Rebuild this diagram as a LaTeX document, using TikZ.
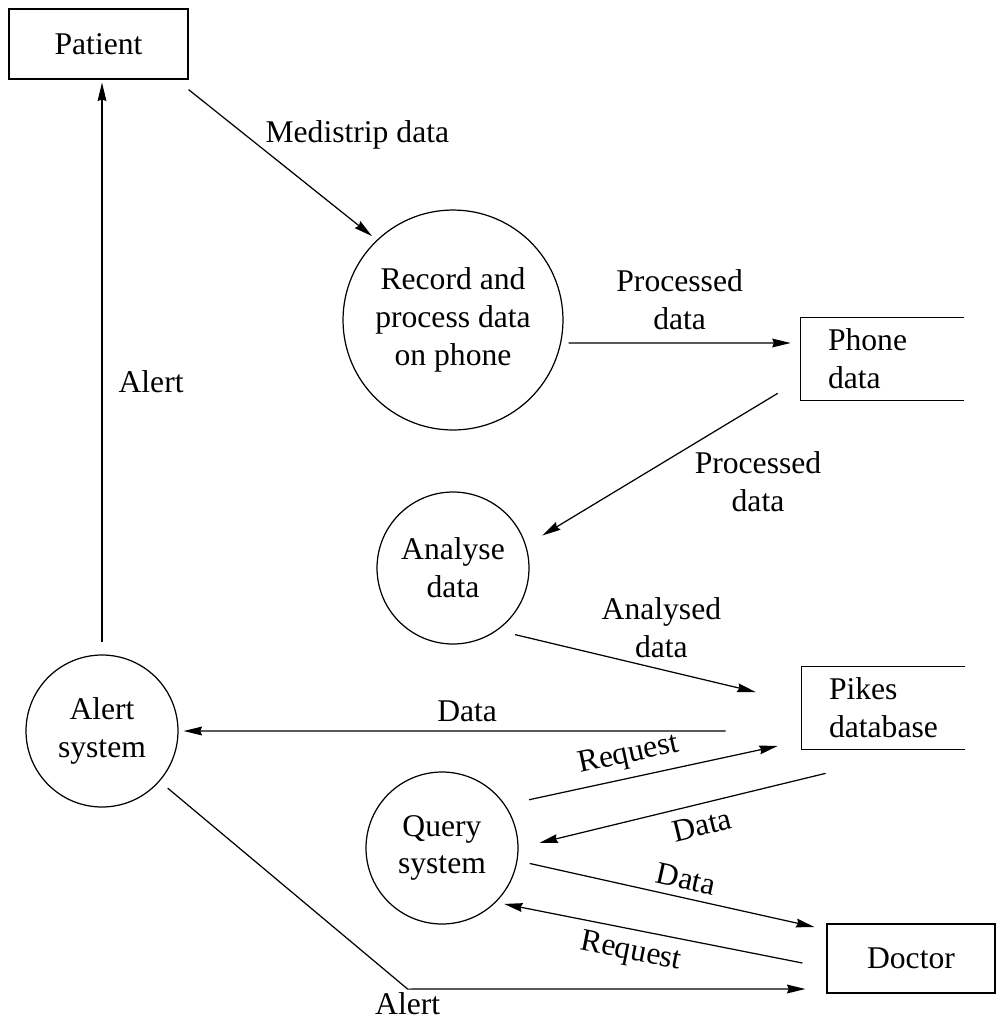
\documentclass[tikz,border=0pt]{standalone}
\usepackage{fontspec}
\setmainfont{Liberation Serif}
\usepackage{tikz}
\usetikzlibrary{arrows.meta}
\tikzset{
  every node/.style={font=\fontsize{18}{21.5}\selectfont},
  nd/.style={circle,draw,line width=0.7pt,inner sep=2pt,align=center},
  bx/.style={rectangle,draw,line width=0.7pt,minimum width=3.58cm,minimum height=1.4cm},
  st/.style={rectangle,inner xsep=0.54cm,text width=2.18cm,minimum height=1.64cm,align=left},
  ed/.style={-{Stealth[length=10.5pt,width=5pt,inset=1pt]},line width=0.7pt},
  lbl/.style={inner sep=0pt},
}
\begin{document}
\begin{tikzpicture}[x=0.02cm,y=0.02cm]
  \useasboundingbox (0,0) rectangle (996,-1018);

  \node[bx] (pat) at (98.5,-44) {Patient};
  \node[nd,minimum size=4.4cm] (rec) at (453,-320) {Record and\\process data\\on phone};
  \node[st] (ph) at (882.5,-359) {Phone\\data};
  \node[nd,minimum size=3.04cm] (ana) at (453,-568) {Analyse\\data};
  \node[st] (pk) at (883.5,-708) {Pikes\\database};
  \node[nd,minimum size=3.04cm] (alr) at (102,-731) {Alert\\system};
  \node[nd,minimum size=3.04cm] (qry) at (442,-848) {Query\\system};
  \node[bx,minimum width=3.36cm,minimum height=1.38cm] (doc) at (911,-958.5) {Doctor};

  % data stores, open on the right
  \draw[line width=0.7pt] (ph.north east) -- (ph.north west) -- (ph.south west) -- (ph.south east);
  \draw[line width=0.7pt] (pk.north east) -- (pk.north west) -- (pk.south west) -- (pk.south east);

  \draw[ed] ([yshift=0.24cm]alr.north) -- node[lbl,pos=0.465,right=0.32cm]{Alert} ([yshift=-0.06cm]alr.north |- pat.south);
  \draw[ed] ([yshift=-0.2cm]pat.south east) -- node[lbl,pos=0.31,right=0.39cm]{Medistrip data} ([shift={(134:0.12cm)}]rec.134);
  \draw[ed] ([shift={(0.1cm,-0.46cm)}]rec.east) -- node[lbl,midway,above=0.26cm,align=center]{Processed\\data} ([shift={(-0.2cm,0.32cm)}]ph.west);
  \draw[ed] ([shift={(-0.46cm,0.14cm)}]ph.south west) -- node[lbl,midway,xshift=1.96cm,yshift=-0.35cm,align=center]{Processed\\data} ([shift={(20:0.37cm)}]ana.20);
  \draw[ed] ([shift={(-47:0.29cm)}]ana.-47) -- node[lbl,midway,xshift=0.52cm,yshift=0.71cm,align=center]{Analysed\\data} ([shift={(-0.92cm,0.32cm)}]pk.west);
  \draw[ed] ([shift={(-1.52cm,-0.46cm)}]pk.west) -- node[lbl,pos=0.477,above=0.17cm]{Data} ([xshift=0.1cm]alr.east);
  \draw[ed] ([shift={(29:0.46cm)}]qry.29) -- node[lbl,pos=0.42,sloped,above=0.16cm]{Request} ([shift={(-0.48cm,-0.76cm)}]pk.west);
  \draw[ed] ([shift={(0.48cm,-0.48cm)}]pk.south west) -- node[lbl,pos=0.45,sloped,below=0.2cm]{Data} ([shift={(3:0.42cm)}]qry.3);
  \draw[ed] ([shift={(-10:0.25cm)}]qry.-10) -- node[lbl,pos=0.535,sloped,above=0.15cm]{Data} ([shift={(-0.24cm,0.63cm)}]doc.west);
  \draw[ed] ([shift={(-0.48cm,-0.09cm)}]doc.west) -- node[lbl,pos=0.56,sloped,below=0.18cm]{Request} ([shift={(-42:0.14cm)}]qry.-42);
  \draw[ed] ([shift={(-41:0.21cm)}]alr.-41) -- ++(4.8cm,-4.02cm) node[lbl,below=0.05cm]{Alert} -- ([shift={(-0.42cm,-0.61cm)}]doc.west);
\end{tikzpicture}
\end{document}
